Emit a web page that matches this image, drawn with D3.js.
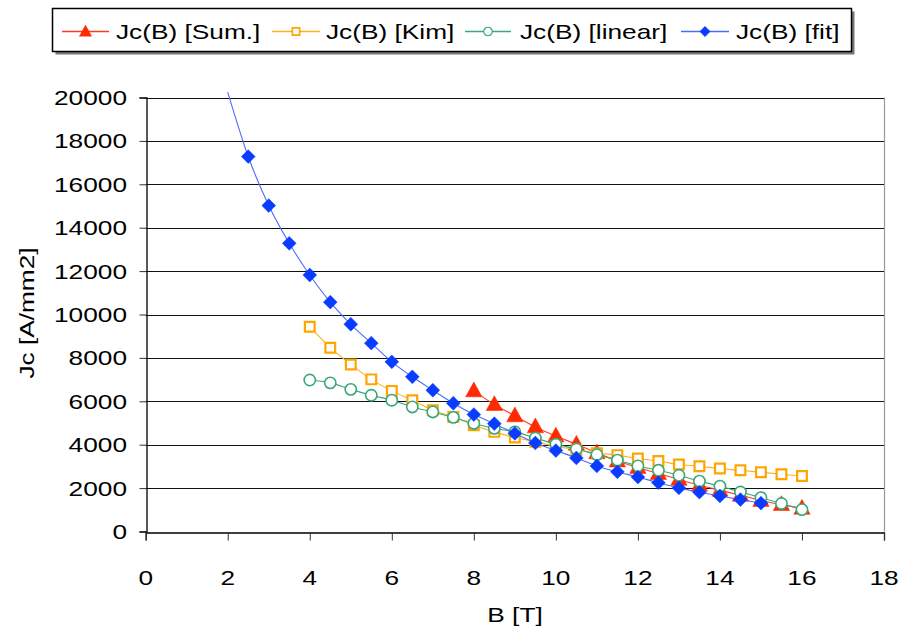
<!DOCTYPE html>
<html>
<head>
<meta charset="utf-8">
<script src="https://cdn.jsdelivr.net/npm/d3@7"></script>
<style>
  html, body { margin: 0; padding: 0; background: #fff; }
  svg { display: block; font-family: Arial, "Liberation Sans", sans-serif; }
</style>
</head>
<body>
<svg id="chart" width="901" height="633"></svg>
<script>
// Critical current density Jc versus field B for four models.
const sumB   = [8, 8.5, 9, 9.5, 10, 10.5, 11, 11.5, 12, 12.5, 13, 13.5, 14, 14.5, 15, 15.5, 16];
const sumJc  = [6480, 5850, 5330, 4820, 4400, 4020, 3620, 3250, 2950, 2670, 2400, 2130, 1900, 1670, 1430, 1240, 1070];

const kimB   = [4, 4.5, 5, 5.5, 6, 6.5, 7, 7.5, 8, 8.5, 9, 9.5, 10, 10.5, 11, 11.5, 12, 12.5, 13, 13.5, 14, 14.5, 15, 15.5, 16];
const kimJc  = [9440, 8470, 7700, 7010, 6480, 6050, 5590, 5280, 4900, 4590, 4330, 4130, 3930, 3770, 3610, 3520, 3360, 3250, 3090, 3010, 2900, 2820, 2730, 2640, 2560];

const linB   = [4, 4.5, 5, 5.5, 6, 6.5, 7, 7.5, 8, 8.5, 9, 9.5, 10, 10.5, 11, 11.5, 12, 12.5, 13, 13.5, 14, 14.5, 15, 15.5, 16];
const linJc  = [6980, 6850, 6550, 6280, 6050, 5740, 5510, 5260, 4980, 4750, 4590, 4310, 4020, 3800, 3540, 3290, 3020, 2820, 2590, 2320, 2090, 1820, 1560, 1290, 1010];

const fitB   = [2, 2.5, 3, 3.5, 4, 4.5, 5, 5.5, 6, 6.5, 7, 7.5, 8, 8.5, 9, 9.5, 10, 10.5, 11, 11.5, 12, 12.5, 13, 13.5, 14, 14.5, 15];
const fitJc  = [20250, 17280, 15020, 13280, 11820, 10570, 9550, 8680, 7820, 7130, 6510, 5910, 5390, 4970, 4520, 4080, 3730, 3390, 3020, 2750, 2510, 2250, 2010, 1810, 1640, 1470, 1310];

const seriesNames = ["Jc(B) [Sum.]", "Jc(B) [Kim]", "Jc(B) [linear]", "Jc(B) [fit]"];
const xTicks = [0, 2, 4, 6, 8, 10, 12, 14, 16, 18];
const yTicks = [0, 2000, 4000, 6000, 8000, 10000, 12000, 14000, 16000, 18000, 20000];

const series = [
  { name: seriesNames[0], xs: sumB, ys: sumJc, line: "#ff3b1f", fill: "#ff2a00", stroke: "#ff2a00", shape: "triangle" },
  { name: seriesNames[1], xs: kimB, ys: kimJc, line: "#ffb020", fill: "#ffffff", stroke: "#ffa500", shape: "square" },
  { name: seriesNames[2], xs: linB, ys: linJc, line: "#3aa877", fill: "#ffffff", stroke: "#3aa877", shape: "circle" },
  { name: seriesNames[3], xs: fitB, ys: fitJc, line: "#4c6cff", fill: "#0a3cff", stroke: "#0a3cff", shape: "diamond" }
];

const svg = d3.select("#chart");
const x = d3.scaleLinear().domain([0, 18]).range([145.7, 884]);
const y = d3.scaleLinear().domain([0, 20000]).range([531.5, 97.5]);

const FONT = 21, STRETCH = 1.25;

// text helper: horizontally widened labels
function label(g, tx, ty, str, anchor, rotate) {
  const t = g.append("text")
    .attr("transform", `translate(${tx},${ty})` + (rotate ? ` rotate(${rotate})` : "") + ` scale(${STRETCH},1)`)
    .attr("text-anchor", anchor || "start")
    .attr("font-size", FONT)
    .attr("fill", "#000")
    .text(str);
  return t;
}

// gridlines
const grid = svg.append("g");
grid.selectAll("line").data(yTicks.filter(d => d > 0)).join("line")
  .attr("x1", x(0)).attr("x2", x(18))
  .attr("y1", d => Math.round(y(d)) + 0.5).attr("y2", d => Math.round(y(d)) + 0.5)
  .attr("stroke", "#111").attr("stroke-width", 1);

// plot area right border
svg.append("line")
  .attr("x1", Math.round(x(18)) + 0.5).attr("x2", Math.round(x(18)) + 0.5)
  .attr("y1", y(20000)).attr("y2", y(0))
  .attr("stroke", "#999").attr("stroke-width", 1.2);

// axes
const yAxis = svg.append("g").attr("transform", `translate(${Math.round(x(0)) + 0.5},0)`)
  .call(d3.axisLeft(y).tickValues(yTicks).tickSize(7).tickFormat(""));
const xAxis = svg.append("g").attr("transform", `translate(0,${Math.round(y(0)) + 0.5})`)
  .call(d3.axisBottom(x).tickValues(xTicks).tickSize(8).tickFormat(""));
[yAxis, xAxis].forEach(a => {
  a.select(".domain").attr("stroke", "#000").attr("stroke-width", 1.3);
  a.selectAll(".tick line").attr("stroke", "#333").attr("stroke-width", 1);
});

const labels = svg.append("g");
yTicks.forEach(v => label(labels, 127, y(v) + 7.5, String(v), "end"));
xTicks.forEach(v => label(labels, x(v), 585, String(v), "middle"));
label(labels, 515, 622, "B [T]", "middle");
label(labels, 34, 313, "Jc [A/mm2]", "middle", -90);

// marker shapes
const symbolFor = {
  triangle: d3.symbol().type(d3.symbolTriangle).size(95),
  square: d3.symbol().type(d3.symbolSquare).size(95),
  circle: d3.symbol().type(d3.symbolCircle).size(100),
  diamond: d3.symbol().type(d3.symbolSquare).size(95)
};
function drawMarker(g, s, px, py) {
  const p = g.append("path").attr("d", symbolFor[s.shape]())
    .attr("fill", s.fill).attr("stroke", s.stroke)
    .attr("stroke-width", s.shape === "square" ? 2.2 : (s.shape === "circle" ? 1.6 : 0.5));
  let tr = `translate(${px},${py})`;
  if (s.shape === "diamond") tr += " rotate(45)";
  if (s.shape === "triangle") tr += " translate(0,1) scale(1.1,1.15)";
  p.attr("transform", tr);
}

const line = d3.line().curve(d3.curveCatmullRom.alpha(0)).x(d => x(d[0])).y(d => y(d[1]));
const plot = svg.append("g");
series.forEach(s => {
  const pts = s.xs.map((b, i) => [b, s.ys[i]]);
  const g = plot.append("g");
  g.append("path").attr("d", line(pts)).attr("fill", "none")
    .attr("stroke", s.line).attr("stroke-width", 1.1);
  // markers are drawn only for points inside the value axis range
  pts.filter(p => p[1] <= y.domain()[1]).forEach(p => drawMarker(g, s, x(p[0]), y(p[1])));
});

// legend
const lg = svg.append("g");
lg.append("rect").attr("x", 55.5).attr("y", 11.5).attr("width", 799).attr("height", 43).attr("fill", "#777");
lg.append("rect").attr("x", 52.5).attr("y", 8.5).attr("width", 799).attr("height", 43)
  .attr("fill", "#fff").attr("stroke", "#000").attr("stroke-width", 1.5);
const legendPos = [
  { x1: 62, x2: 109, tx: 116 },
  { x1: 272, x2: 320, tx: 326 },
  { x1: 465, x2: 511, tx: 520 },
  { x1: 681, x2: 729, tx: 736 }
];
series.forEach((s, i) => {
  const p = legendPos[i];
  const ly = 31.5;
  lg.append("line").attr("x1", p.x1).attr("x2", p.x2).attr("y1", ly).attr("y2", ly)
    .attr("stroke", s.line).attr("stroke-width", 1.3);
  const m = lg.append("g");
  const s2 = Object.assign({}, s);
  drawMarker(m, s2, (p.x1 + p.x2) / 2, ly);
  m.select("path").attr("transform", function () {
    return d3.select(this).attr("transform") + " scale(0.75)";
  });
  label(lg, p.tx, 39, s.name, "start");
});
</script>
</body>
</html>
